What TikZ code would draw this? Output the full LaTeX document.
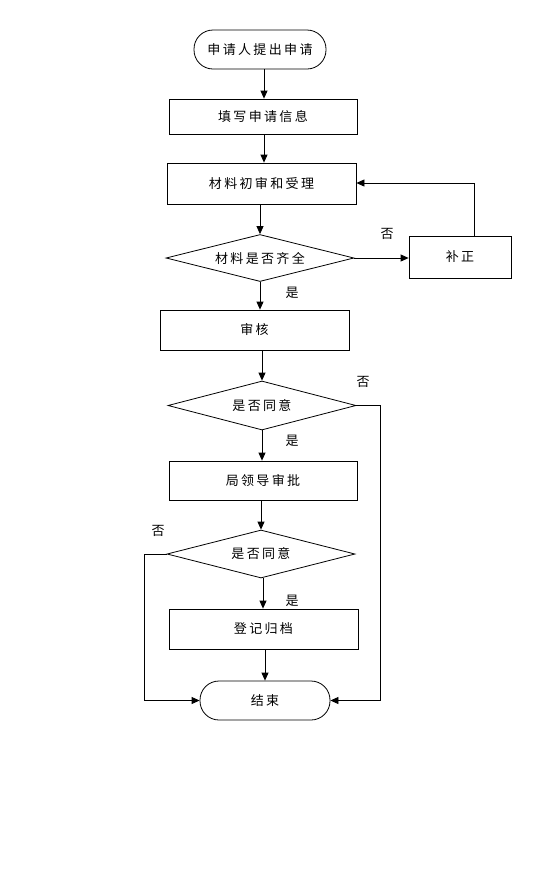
\documentclass[tikz,border=0pt]{standalone}
\usepackage{fontspec}
\newfontfamily\cjk[LetterSpace=18]{Noto Sans CJK SC}
\usepackage{tikz}
\usetikzlibrary{arrows.meta, shapes, positioning, calc}

\begin{document}
\begin{tikzpicture}[x=1pt, y=-1pt, font=\cjk\fontsize{13}{15}\selectfont,
    every node/.style={inner sep=0pt},
    stepbox/.style={draw, line width=0.8pt, minimum width=188pt, minimum height=38pt},
    termbox/.style={draw, line width=0.8pt, rounded corners=19pt, minimum width=132pt, minimum height=39pt},
    decbox/.style={draw, line width=0.8pt, diamond, aspect=3.9, minimum width=188pt, minimum height=47pt},
    flow/.style={line width=0.8pt, -{Triangle[length=8pt, width=7pt]}}]
  \useasboundingbox[fill=white] (0,0) rectangle (552,884);
  \node[termbox] (start) at (260,49.5) {申请人提出申请};
  \node[stepbox, minimum height=35pt] (fill) at (263,116.5) {填写申请信息};
  \node[stepbox, minimum height=41pt, minimum width=189pt] (check) at (261.5,183.5) {材料初审和受理};
  \node[decbox] (full) at (260,258) {材料是否齐全};
  \node[stepbox, minimum width=102pt, minimum height=42pt] (fix) at (460,257) {补正};
  \node[stepbox, minimum height=40pt, minimum width=189pt] (review) at (254.5,330) {审核};
  \node[decbox, minimum height=49pt] (agree1) at (262,405.5) {是否同意};
  \node[stepbox, minimum height=39pt] (leader) at (263,480.5) {局领导审批};
  \node[decbox, minimum height=48pt] (agree2) at (261,554) {是否同意};
  \node[stepbox, minimum height=40pt, minimum width=189pt] (file) at (263.5,629) {登记归档};
  \node[termbox, minimum width=130pt] (finish) at (265,700.5) {结束};
  % labels
  \node (no1) at (387,234) {否};
  \node (yes1) at (292,293) {是};
  \node (no2) at (363,382) {否};
  \node (yes2) at (292,441) {是};
  \node (no3) at (158,531) {否};
  \node (yes3) at (292,601) {是};
  % main line
  \draw[flow] (start.south -| 264,0) -- (fill.north -| 264,0);
  \draw[flow] (fill.south -| 264,0) -- (check.north -| 264,0);
  \draw[flow] (check.south -| 260,0) -- (full.north);
  \draw[flow] (full.south) -- (review.north -| full.south);
  \draw[flow] (review.south -| agree1.north) -- (agree1.north);
  \draw[flow] (agree1.south) -- (leader.north -| agree1.south);
  \draw[flow] (leader.south -| agree2.north) -- (agree2.north);
  \draw[flow] (agree2.south -| 263,0) -- (file.north -| 263,0);
  \draw[flow] (file.south -| 265,0) -- (finish.north);
  % side branches
  \draw[flow] (full.east) -- (fix.west |- full.east);
  \draw[flow] (fix.north -| 474,0) -- (474,183) -- (check.east |- 0,183);
  \draw[flow] (agree1.east) -- (380,405.5) |- (finish.east);
  \draw[flow] (agree2.west) -- (144,554) |- (finish.west);
\end{tikzpicture}
\end{document}
